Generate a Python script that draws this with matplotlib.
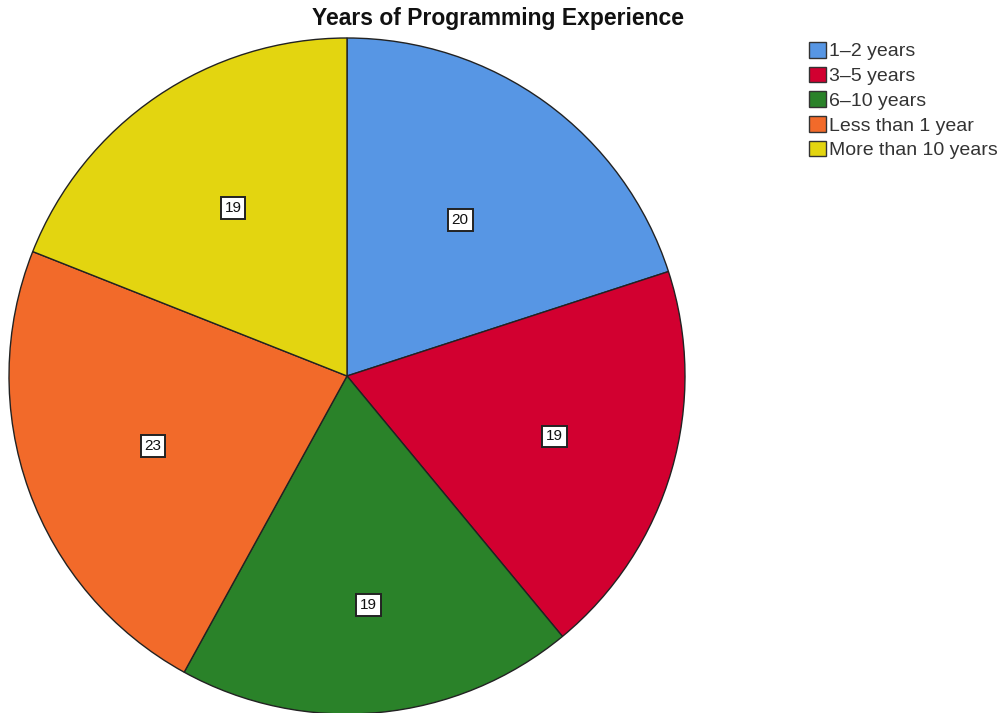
import numpy as np
import matplotlib.pyplot as plt
from matplotlib.patches import Patch

plt.rcParams['font.family'] = ['Liberation Sans', 'DejaVu Sans']

categories = ['1\u20132 years', '3\u20135 years', '6\u201310 years',
              'Less than 1 year', 'More than 10 years']
counts = [20, 19, 19, 23, 19]
colors = ['#5796E4', '#D20030', '#2A8229', '#F26A2A', '#E3D510']
# how far out (fraction of radius) each count label sits
label_r = [0.57, 0.64, 0.68, 0.61, 0.60]

fig = plt.figure(figsize=(10.02, 7.13), dpi=100, facecolor='w')
# square axes in pixels: 676 x 676, pie centre at (347, 376)
ax = fig.add_axes([9 / 1002, (713 - 376 - 338) / 713, 676 / 1002, 676 / 713])

wedges, texts = ax.pie(counts, colors=colors, startangle=90, counterclock=False,
                       radius=1.0, labels=[str(c) for c in counts], labeldistance=0.6,
                       wedgeprops=dict(edgecolor='#222222', linewidth=1.0))
for w, t, r in zip(wedges, texts, label_r):
    mid = np.deg2rad((w.theta1 + w.theta2) / 2)
    t.set_position((r * np.cos(mid), r * np.sin(mid)))
    t.set_ha('center')
    t.set_va('center')
    t.set_fontsize(11)
    t.set_color('#111111')
    t.set_bbox(dict(boxstyle='square,pad=0.25', facecolor='white',
                    edgecolor='#222222', linewidth=1.4))
ax.set_xlim(-1, 1)
ax.set_ylim(-1, 1)
ax.axis('off')

fig.text(498 / 1002, 1 - 19 / 713, 'Years of Programming Experience',
         ha='center', va='center', fontsize=16.5, fontweight='bold', color='#111111')

handles = [Patch(facecolor=c, edgecolor='#333333', linewidth=1.0) for c in colors]
leg = fig.legend(handles, categories, loc='upper left',
                 bbox_to_anchor=(809 / 1002, 1 - 42 / 713),
                 frameon=False, fontsize=14, handlelength=0.85, handleheight=0.85,
                 handletextpad=0.2, labelspacing=0.32, borderaxespad=0, borderpad=0)
for txt in leg.get_texts():
    txt.set_color('#333333')

plt.savefig('out.png', dpi=100, facecolor='w')
